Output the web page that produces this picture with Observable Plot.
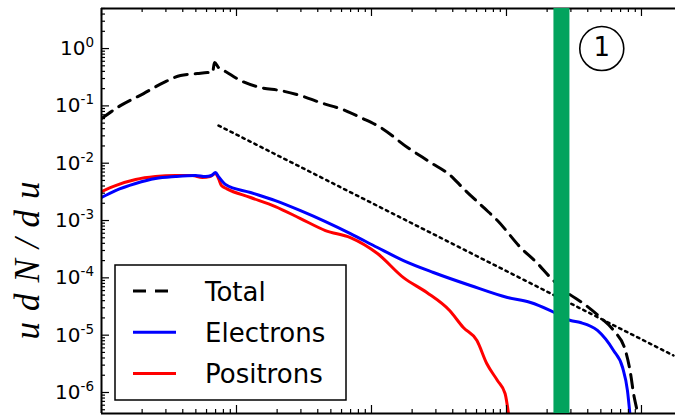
<!DOCTYPE html>
<html><head><meta charset="utf-8">
<script src="https://cdn.jsdelivr.net/npm/d3@7"></script>
<script src="https://cdn.jsdelivr.net/npm/@observablehq/plot@0.6"></script>
<style>body{margin:0;background:#fff;} #chart{position:relative;width:675px;height:419px;overflow:hidden}</style>
</head><body><div id="chart"></div>
<script>
// Total (dashed black)
const totalU = [1.00,1.38,2.05,2.88,3.85,5.14,6.10,6.64,6.87,7.36,8.29,10.7,15.1,21.2,29.8,41.9,64.1,83.0,117,185,274,385,480,676,857,1271,1698,2118,2877,3715,4966,6209,7603,8298,8730,9333,9840];
const totalY = [0.060,0.101,0.164,0.255,0.338,0.366,0.381,0.381,0.570,0.466,0.397,0.277,0.209,0.185,0.151,0.114,0.0829,0.0626,0.0419,0.0188,0.0103,0.0061,0.00361,0.00169,0.00100,3.38e-4,1.78e-4,1.01e-4,5.33e-5,3.56e-5,2.03e-5,1.21e-5,5.40e-6,2.14e-6,9.6e-7,4.3e-7,1.5e-7];
// Electrons (blue)
const elecU = [1.00,1.27,1.79,2.51,3.53,4.97,5.89,6.52,6.99,7.36,7.87,8.29,12.7,19.4,29.8,45.6,69.8,110.7,172.6,287.6,540.8,1016,1507,2118,2979,3532,4720,6209,7244,7873,8298];
const elecY = [2.52e-3,3.33e-3,4.42e-3,5.40e-3,5.85e-3,6.10e-3,5.85e-3,6.10e-3,6.87e-3,5.85e-3,4.79e-3,4.25e-3,3.08e-3,2.23e-3,1.49e-3,9.6e-4,5.93e-4,3.38e-4,2.00e-4,1.24e-4,7.35e-5,4.54e-5,3.72e-5,2.69e-5,1.80e-5,1.66e-5,1.21e-5,5.40e-6,2.73e-6,1.08e-6,3.2e-7];
// Positrons (red)
const posU = [1.00,1.27,1.79,2.51,3.53,4.71,5.58,6.36,6.99,7.36,7.74,8.43,12.7,19.4,29.8,45.6,69.8,110.7,172.6,257,379,479,604,714,857,976,1052];
const posY = [3.20e-3,4.07e-3,5.19e-3,5.85e-3,6.10e-3,6.10e-3,5.62e-3,5.85e-3,6.60e-3,5.40e-3,4.07e-3,3.61e-3,2.52e-3,1.75e-3,1.08e-3,6.69e-4,5.05e-4,2.66e-4,1.01e-4,5.55e-5,2.69e-5,1.36e-5,8.07e-6,3.20e-6,1.62e-6,9.6e-7,3.2e-7];
// Power-law reference (dotted)
const refU = [7.36, 17260];
const refY = [0.0454, 4.42e-6];
// Vertical marker and label
const markerU = [2553];
const circleLabel = [{u: 5080, y: 1, label: "1"}];
// Axis ticks
const yExponents = [0,-1,-2,-3,-4,-5,-6];
const xDecades = [1,10,100,1000,10000];
const legendLabels = ["Total","Electrons","Positrons"];

const W = 675, H = 419, mL = 101, mT = 8, mB = 6, mR = 0;
const xDomain = [1, 17865], yDomain = [4.3e-7, 5];
const plotW = W - mL - mR, plotH = H - mT - mB;

const zip = (us, ys) => us.map((u, i) => ({u, y: ys[i]}));
const total = zip(totalU, totalY), elec = zip(elecU, elecY), pos = zip(posU, posY), ref = zip(refU, refY);

const xMinor = [];
for (const d of xDecades) for (let k = 2; k <= 9; k++) if (d*k <= xDomain[1]) xMinor.push(d*k);
const yMajor = yExponents.map(e => ({v: Math.pow(10, e), e}));
const yMinor = [];
for (const e of [...yExponents, -7]) for (let k = 2; k <= 9; k++) { const v = k*Math.pow(10, e); if (v >= yDomain[0] && v <= yDomain[1]) yMinor.push(v); }

const tickStroke = {stroke: "black", strokeWidth: 1.2};
const svg = Plot.plot({
  width: W, height: H, marginLeft: mL, marginTop: mT, marginBottom: mB, marginRight: mR,
  style: {fontFamily: "DejaVu Sans", background: "white", overflow: "visible"},
  x: {type: "log", domain: xDomain, axis: null},
  y: {type: "log", domain: yDomain, axis: null},
  marks: [
    Plot.line(ref, {x: "u", y: "y", stroke: "black", strokeWidth: 2.5, strokeDasharray: "2.5,4.2", clip: true}),
    Plot.line(total, {x: "u", y: "y", stroke: "black", strokeWidth: 3, strokeDasharray: "13,8", curve: "monotone-x", clip: true}),
    Plot.line(pos, {x: "u", y: "y", stroke: "#ff0000", strokeWidth: 3, curve: "monotone-x", clip: true}),
    Plot.line(elec, {x: "u", y: "y", stroke: "#0000ff", strokeWidth: 3, curve: "monotone-x", clip: true}),
    // ticks (inward)
    Plot.tickX(xDecades, {x: d => d, insetTop: plotH - 8, ...tickStroke}),
    Plot.tickX(xDecades, {x: d => d, insetBottom: plotH - 8, ...tickStroke}),
    Plot.tickX(xMinor, {x: d => d, insetTop: plotH - 4, ...tickStroke}),
    Plot.tickX(xMinor, {x: d => d, insetBottom: plotH - 4, ...tickStroke}),
    Plot.tickY(yMajor, {y: d => d.v, insetRight: plotW - 8, ...tickStroke}),
    Plot.tickY(yMinor, {y: d => d, insetRight: plotW - 4, ...tickStroke}),
    // frame
    Plot.ruleY([yDomain[0]], {y: d => d, stroke: "black", strokeWidth: 2}),
    Plot.ruleY([yDomain[1]], {y: d => d, stroke: "black", strokeWidth: 2}),
    Plot.ruleX([xDomain[0]], {x: d => d, stroke: "black", strokeWidth: 2}),
    // green marker
    Plot.ruleX(markerU, {x: d => d, stroke: "#02a35d", strokeWidth: 16}),
    // circled label
    Plot.dot(circleLabel, {x: "u", y: "y", r: 22, stroke: "black", strokeWidth: 1.6, fill: "white"}),
    Plot.text(circleLabel, {x: "u", y: "y", text: "label", fontSize: 26, fill: "black", dy: -1}),
    // y tick labels
    Plot.text(yMajor, {y: d => d.v, frameAnchor: "left", text: d => "10^" + (d.e === 0 ? "0" : "-" + (-d.e)), textAnchor: "end", dx: -7.5, fontSize: 20, fill: "black"}),
    // y axis title
    Plot.text(["udN/du"], {frameAnchor: "left", text: d => d, rotate: -90, dx: -74, dy: 44, fontSize: 35, fontStyle: "italic", fontFamily: "Liberation Serif", fill: "black", textAnchor: "middle"})
  ]
});
document.getElementById("chart").appendChild(svg);

const s = d3.select(svg);
// superscripts
s.selectAll("text").filter(function(){ return this.textContent.includes("^"); }).each(function(){
  const [b, e] = this.textContent.split("^");
  this.textContent = b;
  d3.select(this).append("tspan").attr("dy", "-8px").attr("font-size", "13.5px").text(e);
});
s.selectAll("text").filter(function(){ return this.textContent === "udN/du"; }).attr("letter-spacing", "11px");

// legend
const lg = s.append("g").attr("text-anchor", "start");
lg.append("rect").attr("x", 115).attr("y", 265).attr("width", 231).attr("height", 135)
  .attr("fill", "white").attr("stroke", "black").attr("stroke-width", 1.5);
const legendStyles = [
  {stroke: "black", dash: "13,9"},
  {stroke: "#0000ff", dash: null},
  {stroke: "#ff0000", dash: null}
];
legendLabels.forEach((lab, i) => {
  const cy = 291 + i*41.3;
  const ln = lg.append("line").attr("x1", 133).attr("x2", 176).attr("y1", cy).attr("y2", cy)
    .attr("stroke", legendStyles[i].stroke).attr("stroke-width", 3);
  if (legendStyles[i].dash) ln.attr("stroke-dasharray", legendStyles[i].dash);
  lg.append("text").attr("x", 205).attr("y", cy + 9.5).attr("font-size", 26)
    .attr("text-anchor", "start")
    .attr("font-family", "DejaVu Sans").attr("fill", "black").text(lab);
});
</script></body></html>
